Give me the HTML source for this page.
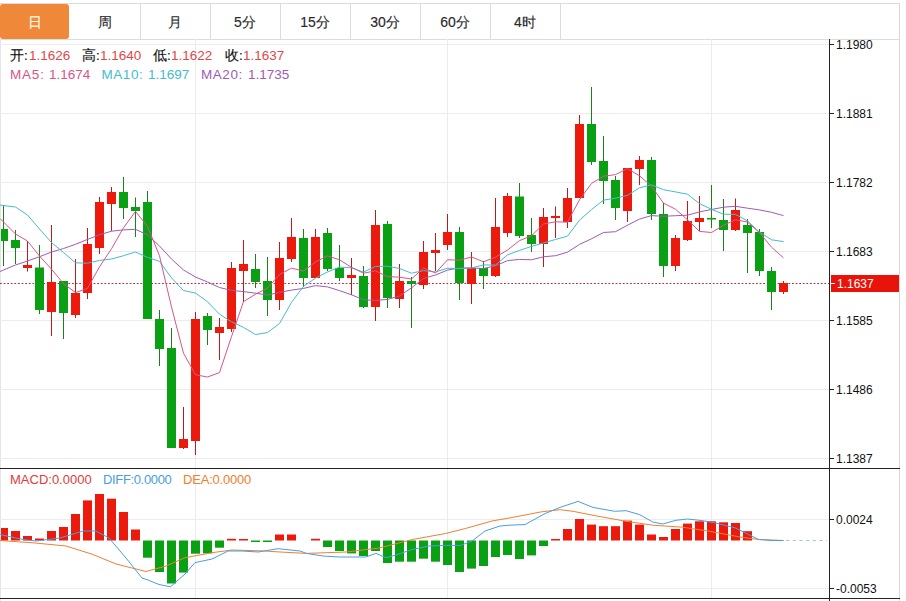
<!DOCTYPE html>
<html><head><meta charset="utf-8">
<style>
html,body{margin:0;padding:0;background:#fff;}
body{width:906px;height:601px;position:relative;overflow:hidden;font-family:"Liberation Sans",sans-serif;}
.topline{position:absolute;left:0;top:3px;width:900px;height:1px;background:#dcdcdc;}
.botline{position:absolute;left:0;top:39px;width:900px;height:1px;background:#dcdcdc;}
.rline{position:absolute;left:899px;top:3px;width:1px;height:598px;background:#d8d8d8;}
.lline{position:absolute;left:0;top:39px;width:1px;height:562px;background:#e4e4ea;}
.sep{position:absolute;top:3px;width:1px;height:36px;background:#dcdcdc;}
.tab{position:absolute;top:4px;width:70px;height:35px;line-height:37px;text-align:center;font-size:14px;color:#2a2a2a;-webkit-text-stroke:0.15px #2a2a2a;}
.tab.act{left:1px;width:69px;background:#f0883a;color:#fff8e8;-webkit-text-stroke:0.15px #fff8e8;border-radius:3px;}
svg{position:absolute;left:0;top:0;}
.ax{font-size:12px;fill:#111;font-family:"Liberation Sans",sans-serif;}
.t{position:absolute;white-space:nowrap;line-height:16px;}
.leg{position:absolute;font-size:13px;white-space:nowrap;line-height:16px;}
.k{color:#222;} .v{color:#e04545;}
</style></head><body>
<div class="topline"></div><div class="botline"></div><div class="rline"></div><div class="lline"></div>
<div class="sep" style="left:140px"></div><div class="sep" style="left:210px"></div><div class="sep" style="left:280px"></div><div class="sep" style="left:350px"></div><div class="sep" style="left:420px"></div><div class="sep" style="left:490px"></div><div class="sep" style="left:560px"></div><div class="tab act" style="left:0px">日</div><div class="tab" style="left:70px">周</div><div class="tab" style="left:140px">月</div><div class="tab" style="left:210px">5分</div><div class="tab" style="left:280px">15分</div><div class="tab" style="left:350px">30分</div><div class="tab" style="left:420px">60分</div><div class="tab" style="left:490px">4时</div>
<svg width="906" height="601" viewBox="0 0 906 601">
<defs><clipPath id="clipc"><rect x="1" y="40" width="828" height="428"/></clipPath><clipPath id="clipm"><rect x="1" y="469" width="828" height="129"/></clipPath></defs>
<line x1="0" y1="44.5" x2="829" y2="44.5" stroke="#ebebf0" stroke-width="1"/>
<line x1="0" y1="113.5" x2="829" y2="113.5" stroke="#ebebf0" stroke-width="1"/>
<line x1="0" y1="182.5" x2="829" y2="182.5" stroke="#ebebf0" stroke-width="1"/>
<line x1="0" y1="251.5" x2="829" y2="251.5" stroke="#ebebf0" stroke-width="1"/>
<line x1="0" y1="320.5" x2="829" y2="320.5" stroke="#ebebf0" stroke-width="1"/>
<line x1="0" y1="389.5" x2="829" y2="389.5" stroke="#ebebf0" stroke-width="1"/>
<line x1="0" y1="458.5" x2="829" y2="458.5" stroke="#ebebf0" stroke-width="1"/>
<line x1="0" y1="519.5" x2="829" y2="519.5" stroke="#ebebf0" stroke-width="1"/>
<line x1="0" y1="588.5" x2="829" y2="588.5" stroke="#ebebf0" stroke-width="1"/>
<line x1="195.5" y1="39" x2="195.5" y2="598" stroke="#ebebf0" stroke-width="1"/>
<line x1="447.5" y1="39" x2="447.5" y2="598" stroke="#ebebf0" stroke-width="1"/>
<line x1="711.5" y1="39" x2="711.5" y2="598" stroke="#ebebf0" stroke-width="1"/>
<line x1="0" y1="283.5" x2="829" y2="283.5" stroke="#b83040" stroke-width="1" stroke-dasharray="1.8,1.8"/>
<g clip-path="url(#clipc)">
<line x1="3.5" y1="205" x2="3.5" y2="266" stroke="#1a801a" stroke-width="1"/>
<rect x="-1.0" y="229" width="9" height="12" fill="#0aa014"/>
<line x1="15.5" y1="230" x2="15.5" y2="264" stroke="#1a801a" stroke-width="1"/>
<rect x="11.0" y="240" width="9" height="8" fill="#0aa014"/>
<line x1="27.5" y1="241" x2="27.5" y2="271.5" stroke="#b81c1c" stroke-width="1"/>
<rect x="23.0" y="265" width="9" height="3" fill="#ec1a0c"/>
<line x1="39.5" y1="245" x2="39.5" y2="314" stroke="#1a801a" stroke-width="1"/>
<rect x="35.0" y="267.5" width="9" height="42.5" fill="#0aa014"/>
<line x1="51.5" y1="225" x2="51.5" y2="336" stroke="#b81c1c" stroke-width="1"/>
<rect x="47.0" y="282" width="9" height="30" fill="#ec1a0c"/>
<line x1="63.5" y1="281" x2="63.5" y2="339" stroke="#1a801a" stroke-width="1"/>
<rect x="59.0" y="281" width="9" height="32" fill="#0aa014"/>
<line x1="75.5" y1="259" x2="75.5" y2="318" stroke="#b81c1c" stroke-width="1"/>
<rect x="71.0" y="293" width="9" height="22" fill="#ec1a0c"/>
<line x1="87.5" y1="228" x2="87.5" y2="299" stroke="#b81c1c" stroke-width="1"/>
<rect x="83.0" y="244" width="9" height="49" fill="#ec1a0c"/>
<line x1="99.5" y1="197" x2="99.5" y2="254" stroke="#b81c1c" stroke-width="1"/>
<rect x="95.0" y="202" width="9" height="46" fill="#ec1a0c"/>
<line x1="111.5" y1="187" x2="111.5" y2="231" stroke="#b81c1c" stroke-width="1"/>
<rect x="107.0" y="192" width="9" height="12" fill="#ec1a0c"/>
<line x1="123.5" y1="177" x2="123.5" y2="219" stroke="#1a801a" stroke-width="1"/>
<rect x="119.0" y="192" width="9" height="16" fill="#0aa014"/>
<line x1="135.5" y1="197.5" x2="135.5" y2="237" stroke="#1a801a" stroke-width="1"/>
<rect x="131.0" y="207" width="9" height="4" fill="#0aa014"/>
<line x1="147.5" y1="191" x2="147.5" y2="319" stroke="#1a801a" stroke-width="1"/>
<rect x="143.0" y="202" width="9" height="117" fill="#0aa014"/>
<line x1="159.5" y1="310" x2="159.5" y2="366" stroke="#1a801a" stroke-width="1"/>
<rect x="155.0" y="319" width="9" height="30" fill="#0aa014"/>
<line x1="171.5" y1="328" x2="171.5" y2="448" stroke="#1a801a" stroke-width="1"/>
<rect x="167.0" y="348" width="9" height="100" fill="#0aa014"/>
<line x1="183.5" y1="407" x2="183.5" y2="449" stroke="#b81c1c" stroke-width="1"/>
<rect x="179.0" y="439" width="9" height="9" fill="#ec1a0c"/>
<line x1="195.5" y1="312" x2="195.5" y2="455" stroke="#b81c1c" stroke-width="1"/>
<rect x="191.0" y="319" width="9" height="122" fill="#ec1a0c"/>
<line x1="207.5" y1="313" x2="207.5" y2="345" stroke="#1a801a" stroke-width="1"/>
<rect x="203.0" y="316" width="9" height="14" fill="#0aa014"/>
<line x1="219.5" y1="318" x2="219.5" y2="360" stroke="#b81c1c" stroke-width="1"/>
<rect x="215.0" y="327" width="9" height="6" fill="#ec1a0c"/>
<line x1="231.5" y1="262" x2="231.5" y2="332" stroke="#b81c1c" stroke-width="1"/>
<rect x="227.0" y="268" width="9" height="61" fill="#ec1a0c"/>
<line x1="243.5" y1="240" x2="243.5" y2="302" stroke="#b81c1c" stroke-width="1"/>
<rect x="239.0" y="264" width="9" height="7" fill="#ec1a0c"/>
<line x1="255.5" y1="254" x2="255.5" y2="288" stroke="#1a801a" stroke-width="1"/>
<rect x="251.0" y="269" width="9" height="13" fill="#0aa014"/>
<line x1="267.5" y1="257" x2="267.5" y2="316" stroke="#1a801a" stroke-width="1"/>
<rect x="263.0" y="281" width="9" height="19" fill="#0aa014"/>
<line x1="279.5" y1="242" x2="279.5" y2="310" stroke="#b81c1c" stroke-width="1"/>
<rect x="275.0" y="258" width="9" height="42" fill="#ec1a0c"/>
<line x1="291.5" y1="218" x2="291.5" y2="262" stroke="#b81c1c" stroke-width="1"/>
<rect x="287.0" y="237" width="9" height="22" fill="#ec1a0c"/>
<line x1="303.5" y1="229" x2="303.5" y2="287" stroke="#1a801a" stroke-width="1"/>
<rect x="299.0" y="238" width="9" height="40" fill="#0aa014"/>
<line x1="315.5" y1="229" x2="315.5" y2="278" stroke="#b81c1c" stroke-width="1"/>
<rect x="311.0" y="237" width="9" height="41" fill="#ec1a0c"/>
<line x1="327.5" y1="228" x2="327.5" y2="271" stroke="#1a801a" stroke-width="1"/>
<rect x="323.0" y="233" width="9" height="36" fill="#0aa014"/>
<line x1="339.5" y1="245" x2="339.5" y2="281" stroke="#1a801a" stroke-width="1"/>
<rect x="335.0" y="268" width="9" height="10" fill="#0aa014"/>
<line x1="351.5" y1="258" x2="351.5" y2="295" stroke="#b81c1c" stroke-width="1"/>
<rect x="347.0" y="275" width="9" height="3" fill="#ec1a0c"/>
<line x1="363.5" y1="266" x2="363.5" y2="308" stroke="#1a801a" stroke-width="1"/>
<rect x="359.0" y="276" width="9" height="31" fill="#0aa014"/>
<line x1="375.5" y1="210" x2="375.5" y2="321" stroke="#b81c1c" stroke-width="1"/>
<rect x="371.0" y="225" width="9" height="82" fill="#ec1a0c"/>
<line x1="387.5" y1="221" x2="387.5" y2="308" stroke="#1a801a" stroke-width="1"/>
<rect x="383.0" y="224" width="9" height="74" fill="#0aa014"/>
<line x1="399.5" y1="264" x2="399.5" y2="308" stroke="#b81c1c" stroke-width="1"/>
<rect x="395.0" y="281" width="9" height="18" fill="#ec1a0c"/>
<line x1="411.5" y1="277" x2="411.5" y2="328" stroke="#1a801a" stroke-width="1"/>
<rect x="407.0" y="281" width="9" height="3" fill="#0aa014"/>
<line x1="423.5" y1="241" x2="423.5" y2="289" stroke="#b81c1c" stroke-width="1"/>
<rect x="419.0" y="252" width="9" height="33" fill="#ec1a0c"/>
<line x1="435.5" y1="233" x2="435.5" y2="271" stroke="#b81c1c" stroke-width="1"/>
<rect x="431.0" y="250" width="9" height="3" fill="#ec1a0c"/>
<line x1="447.5" y1="214" x2="447.5" y2="250" stroke="#b81c1c" stroke-width="1"/>
<rect x="443.0" y="232" width="9" height="13" fill="#ec1a0c"/>
<line x1="459.5" y1="227" x2="459.5" y2="300" stroke="#1a801a" stroke-width="1"/>
<rect x="455.0" y="232" width="9" height="51" fill="#0aa014"/>
<line x1="471.5" y1="252" x2="471.5" y2="304" stroke="#b81c1c" stroke-width="1"/>
<rect x="467.0" y="268" width="9" height="16" fill="#ec1a0c"/>
<line x1="483.5" y1="261" x2="483.5" y2="289" stroke="#1a801a" stroke-width="1"/>
<rect x="479.0" y="268" width="9" height="8" fill="#0aa014"/>
<line x1="495.5" y1="198" x2="495.5" y2="277" stroke="#b81c1c" stroke-width="1"/>
<rect x="491.0" y="227" width="9" height="49" fill="#ec1a0c"/>
<line x1="507.5" y1="193" x2="507.5" y2="237" stroke="#b81c1c" stroke-width="1"/>
<rect x="503.0" y="196" width="9" height="37" fill="#ec1a0c"/>
<line x1="519.5" y1="183" x2="519.5" y2="238" stroke="#1a801a" stroke-width="1"/>
<rect x="515.0" y="196.5" width="9" height="39.5" fill="#0aa014"/>
<line x1="531.5" y1="218" x2="531.5" y2="252" stroke="#1a801a" stroke-width="1"/>
<rect x="527.0" y="235" width="9" height="9" fill="#0aa014"/>
<line x1="543.5" y1="208" x2="543.5" y2="267" stroke="#b81c1c" stroke-width="1"/>
<rect x="539.0" y="217" width="9" height="27" fill="#ec1a0c"/>
<line x1="555.5" y1="206.5" x2="555.5" y2="238" stroke="#b81c1c" stroke-width="1"/>
<rect x="551.0" y="216" width="9" height="2" fill="#ec1a0c"/>
<line x1="567.5" y1="188" x2="567.5" y2="228" stroke="#b81c1c" stroke-width="1"/>
<rect x="563.0" y="198" width="9" height="24" fill="#ec1a0c"/>
<line x1="579.5" y1="115" x2="579.5" y2="198" stroke="#b81c1c" stroke-width="1"/>
<rect x="575.0" y="124" width="9" height="74" fill="#ec1a0c"/>
<line x1="591.5" y1="87" x2="591.5" y2="165" stroke="#1a801a" stroke-width="1"/>
<rect x="587.0" y="124" width="9" height="38" fill="#0aa014"/>
<line x1="603.5" y1="136" x2="603.5" y2="204" stroke="#1a801a" stroke-width="1"/>
<rect x="599.0" y="161" width="9" height="20" fill="#0aa014"/>
<line x1="615.5" y1="176" x2="615.5" y2="220" stroke="#1a801a" stroke-width="1"/>
<rect x="611.0" y="180" width="9" height="28" fill="#0aa014"/>
<line x1="627.5" y1="168" x2="627.5" y2="222" stroke="#b81c1c" stroke-width="1"/>
<rect x="623.0" y="168" width="9" height="43" fill="#ec1a0c"/>
<line x1="639.5" y1="156" x2="639.5" y2="185" stroke="#b81c1c" stroke-width="1"/>
<rect x="635.0" y="160" width="9" height="9" fill="#ec1a0c"/>
<line x1="651.5" y1="157" x2="651.5" y2="220" stroke="#1a801a" stroke-width="1"/>
<rect x="647.0" y="160" width="9" height="54" fill="#0aa014"/>
<line x1="663.5" y1="203" x2="663.5" y2="277" stroke="#1a801a" stroke-width="1"/>
<rect x="659.0" y="214" width="9" height="52" fill="#0aa014"/>
<line x1="675.5" y1="235" x2="675.5" y2="271" stroke="#b81c1c" stroke-width="1"/>
<rect x="671.0" y="238" width="9" height="28" fill="#ec1a0c"/>
<line x1="687.5" y1="201" x2="687.5" y2="241" stroke="#b81c1c" stroke-width="1"/>
<rect x="683.0" y="221" width="9" height="19" fill="#ec1a0c"/>
<line x1="699.5" y1="196" x2="699.5" y2="231" stroke="#b81c1c" stroke-width="1"/>
<rect x="695.0" y="218" width="9" height="4" fill="#ec1a0c"/>
<line x1="711.5" y1="185" x2="711.5" y2="228" stroke="#1a801a" stroke-width="1"/>
<rect x="707.0" y="218" width="9" height="1.5" fill="#0aa014"/>
<line x1="723.5" y1="199" x2="723.5" y2="251" stroke="#1a801a" stroke-width="1"/>
<rect x="719.0" y="220" width="9" height="10" fill="#0aa014"/>
<line x1="735.5" y1="198.5" x2="735.5" y2="231" stroke="#b81c1c" stroke-width="1"/>
<rect x="731.0" y="210" width="9" height="20" fill="#ec1a0c"/>
<line x1="747.5" y1="219" x2="747.5" y2="273" stroke="#1a801a" stroke-width="1"/>
<rect x="743.0" y="225" width="9" height="8" fill="#0aa014"/>
<line x1="759.5" y1="229" x2="759.5" y2="276" stroke="#1a801a" stroke-width="1"/>
<rect x="755.0" y="232" width="9" height="39" fill="#0aa014"/>
<line x1="771.5" y1="267" x2="771.5" y2="310" stroke="#1a801a" stroke-width="1"/>
<rect x="767.0" y="271" width="9" height="21" fill="#0aa014"/>
<line x1="783.5" y1="281" x2="783.5" y2="294" stroke="#b81c1c" stroke-width="1"/>
<rect x="779.0" y="283" width="9" height="9" fill="#ec1a0c"/>
</g>
<polyline points="0.0,271.5 3.5,270.0 15.5,265.0 27.5,261.0 39.5,256.7 51.5,252.0 63.5,248.5 75.5,244.3 87.5,239.4 99.5,234.8 111.5,231.2 123.5,229.9 135.5,229.3 147.5,234.8 159.5,246.0 171.5,259.0 183.5,270.0 195.5,277.0 207.5,282.0 219.5,287.5 231.5,290.4 243.5,291.6 255.5,293.2 267.5,295.0 279.5,292.4 291.5,290.1 303.5,288.4 315.5,285.6 327.5,286.9 339.5,290.6 351.5,294.8 363.5,299.8 375.5,300.4 387.5,299.4 399.5,296.0 411.5,287.8 423.5,278.4 435.5,275.0 447.5,270.1 459.5,267.9 471.5,267.9 483.5,268.5 495.5,265.8 507.5,260.6 519.5,259.4 531.5,259.8 543.5,256.8 555.5,255.7 567.5,252.2 579.5,244.4 591.5,238.8 603.5,232.5 615.5,231.7 627.5,225.2 639.5,219.1 651.5,215.6 663.5,216.3 675.5,215.7 687.5,215.2 699.5,211.9 711.5,209.5 723.5,207.2 735.5,206.3 747.5,208.2 759.5,209.9 771.5,212.3 783.5,215.6" fill="none" stroke="#9e5cb4" stroke-width="1"/>
<polyline points="0.0,205.0 3.5,205.5 15.5,207.0 27.5,215.0 39.5,229.0 51.5,242.5 63.5,252.5 75.5,262.8 87.5,263.2 99.5,260.4 111.5,259.0 123.5,255.7 135.5,252.0 147.5,257.4 159.5,261.3 171.5,277.9 183.5,290.5 195.5,293.1 207.5,301.7 219.5,314.2 231.5,321.8 243.5,327.4 255.5,334.5 267.5,332.6 279.5,323.5 291.5,302.4 303.5,286.3 315.5,278.1 327.5,272.0 339.5,267.1 351.5,267.8 363.5,272.1 375.5,266.4 387.5,266.2 399.5,268.5 411.5,273.2 423.5,270.6 435.5,271.9 447.5,268.2 459.5,268.7 471.5,268.0 483.5,264.9 495.5,265.1 507.5,254.9 519.5,250.4 531.5,246.4 543.5,242.9 555.5,239.5 567.5,236.1 579.5,220.2 591.5,209.6 603.5,200.1 615.5,198.2 627.5,195.4 639.5,187.8 651.5,184.8 663.5,189.7 675.5,191.9 687.5,194.2 699.5,203.6 711.5,209.3 723.5,214.2 735.5,214.4 747.5,220.9 759.5,232.1 771.5,239.8 783.5,241.6" fill="none" stroke="#45bccb" stroke-width="1"/>
<polyline points="0.0,218.5 3.5,222.0 15.5,234.0 27.5,241.0 39.5,256.0 51.5,269.2 63.5,283.6 75.5,292.6 87.5,288.4 99.5,266.8 111.5,248.8 123.5,227.8 135.5,211.4 147.5,226.4 159.5,255.8 171.5,307.0 183.5,353.2 195.5,374.8 207.5,377.0 219.5,372.6 231.5,336.6 243.5,301.6 255.5,294.2 267.5,288.2 279.5,274.4 291.5,268.2 303.5,271.0 315.5,262.0 327.5,255.8 339.5,259.8 351.5,267.4 363.5,273.2 375.5,270.8 387.5,276.6 399.5,277.2 411.5,279.0 423.5,268.0 435.5,273.0 447.5,259.8 459.5,260.2 471.5,257.0 483.5,261.8 495.5,257.2 507.5,250.0 519.5,240.6 531.5,235.8 543.5,224.0 555.5,221.8 567.5,222.2 579.5,199.8 591.5,183.4 603.5,176.2 615.5,174.6 627.5,168.6 639.5,175.8 651.5,186.2 663.5,203.2 675.5,209.2 687.5,219.8 699.5,231.4 711.5,232.5 723.5,225.3 735.5,219.7 747.5,222.1 759.5,232.7 771.5,247.2 783.5,257.8" fill="none" stroke="#d8558a" stroke-width="1"/>
<g clip-path="url(#clipm)">
<rect x="-1.0" y="528" width="9" height="12.5" fill="#ec1a0c"/>
<rect x="11.0" y="531" width="9" height="9.5" fill="#ec1a0c"/>
<rect x="23.0" y="536" width="9" height="4.5" fill="#ec1a0c"/>
<rect x="35.0" y="538.5" width="9" height="2.0" fill="#ec1a0c"/>
<rect x="47.0" y="531" width="9" height="9.5" fill="#ec1a0c"/>
<rect x="59.0" y="527" width="9" height="13.5" fill="#ec1a0c"/>
<rect x="71.0" y="514" width="9" height="26.5" fill="#ec1a0c"/>
<rect x="83.0" y="500.4" width="9" height="40.1" fill="#ec1a0c"/>
<rect x="95.0" y="494" width="9" height="46.5" fill="#ec1a0c"/>
<rect x="107.0" y="498.7" width="9" height="41.8" fill="#ec1a0c"/>
<rect x="119.0" y="512" width="9" height="28.5" fill="#ec1a0c"/>
<rect x="131.0" y="529.5" width="9" height="11.0" fill="#ec1a0c"/>
<rect x="143.0" y="540.5" width="9" height="17.2" fill="#0aa014"/>
<rect x="155.0" y="540.5" width="9" height="31.5" fill="#0aa014"/>
<rect x="167.0" y="540.5" width="9" height="43.0" fill="#0aa014"/>
<rect x="179.0" y="540.5" width="9" height="32.1" fill="#0aa014"/>
<rect x="191.0" y="540.5" width="9" height="13.2" fill="#0aa014"/>
<rect x="203.0" y="540.5" width="9" height="12.9" fill="#0aa014"/>
<rect x="215.0" y="540.5" width="9" height="7.2" fill="#0aa014"/>
<rect x="227.0" y="538.8" width="9" height="1.7" fill="#ec1a0c"/>
<rect x="239.0" y="539.0" width="9" height="1.5" fill="#ec1a0c"/>
<rect x="251.0" y="540.5" width="9" height="1.5" fill="#0aa014"/>
<rect x="263.0" y="540.5" width="9" height="1.5" fill="#0aa014"/>
<rect x="275.0" y="534.5" width="9" height="6.0" fill="#ec1a0c"/>
<rect x="287.0" y="534.5" width="9" height="6.0" fill="#ec1a0c"/>
<rect x="311.0" y="538.8" width="9" height="1.7" fill="#ec1a0c"/>
<rect x="323.0" y="540.5" width="9" height="6.5" fill="#0aa014"/>
<rect x="335.0" y="540.5" width="9" height="10.5" fill="#0aa014"/>
<rect x="347.0" y="540.5" width="9" height="12.9" fill="#0aa014"/>
<rect x="359.0" y="540.5" width="9" height="15.5" fill="#0aa014"/>
<rect x="371.0" y="540.5" width="9" height="10.5" fill="#0aa014"/>
<rect x="383.0" y="540.5" width="9" height="22.5" fill="#0aa014"/>
<rect x="395.0" y="540.5" width="9" height="21.2" fill="#0aa014"/>
<rect x="407.0" y="540.5" width="9" height="21.2" fill="#0aa014"/>
<rect x="419.0" y="540.5" width="9" height="18.2" fill="#0aa014"/>
<rect x="431.0" y="540.5" width="9" height="21.2" fill="#0aa014"/>
<rect x="443.0" y="540.5" width="9" height="24.5" fill="#0aa014"/>
<rect x="455.0" y="540.5" width="9" height="31.5" fill="#0aa014"/>
<rect x="467.0" y="540.5" width="9" height="28.1" fill="#0aa014"/>
<rect x="479.0" y="540.5" width="9" height="25.5" fill="#0aa014"/>
<rect x="491.0" y="540.5" width="9" height="16.5" fill="#0aa014"/>
<rect x="503.0" y="540.5" width="9" height="14.5" fill="#0aa014"/>
<rect x="515.0" y="540.5" width="9" height="18.5" fill="#0aa014"/>
<rect x="527.0" y="540.5" width="9" height="14.9" fill="#0aa014"/>
<rect x="539.0" y="540.5" width="9" height="5.5" fill="#0aa014"/>
<rect x="551.0" y="539.0" width="9" height="1.5" fill="#ec1a0c"/>
<rect x="563.0" y="529" width="9" height="11.5" fill="#ec1a0c"/>
<rect x="575.0" y="519" width="9" height="21.5" fill="#ec1a0c"/>
<rect x="587.0" y="524.6" width="9" height="15.9" fill="#ec1a0c"/>
<rect x="599.0" y="526.2" width="9" height="14.3" fill="#ec1a0c"/>
<rect x="611.0" y="526.2" width="9" height="14.3" fill="#ec1a0c"/>
<rect x="623.0" y="520.6" width="9" height="19.9" fill="#ec1a0c"/>
<rect x="635.0" y="524.6" width="9" height="15.9" fill="#ec1a0c"/>
<rect x="647.0" y="534.5" width="9" height="6.0" fill="#ec1a0c"/>
<rect x="659.0" y="537" width="9" height="3.5" fill="#ec1a0c"/>
<rect x="671.0" y="529" width="9" height="11.5" fill="#ec1a0c"/>
<rect x="683.0" y="523.6" width="9" height="16.9" fill="#ec1a0c"/>
<rect x="695.0" y="521.3" width="9" height="19.2" fill="#ec1a0c"/>
<rect x="707.0" y="521.3" width="9" height="19.2" fill="#ec1a0c"/>
<rect x="719.0" y="522.3" width="9" height="18.2" fill="#ec1a0c"/>
<rect x="731.0" y="523" width="9" height="17.5" fill="#ec1a0c"/>
<rect x="743.0" y="531.2" width="9" height="9.3" fill="#ec1a0c"/>
</g>
<line x1="786" y1="540.5" x2="827" y2="540.5" stroke="#a8c4d8" stroke-width="1" stroke-dasharray="3.2,3.5"/>
<polyline points="0.0,540.5 33.0,542.8 66.0,546.0 93.0,554.5 116.0,564.0 146.0,571.5 166.0,566.0 185.0,557.7 212.0,552.7 232.0,550.0 265.0,551.0 280.0,552.0 306.5,553.4 346.0,552.0 379.0,548.0 412.5,539.5 445.6,533.5 465.4,528.5 492.0,521.0 512.0,517.5 541.6,511.8 560.0,509.7 573.0,511.3 593.0,515.3 626.0,521.3 652.7,525.2 682.5,527.2 709.0,531.2 738.8,536.8 758.7,539.5 783.5,540.5" fill="none" stroke="#f08030" stroke-width="1"/>
<polyline points="0.0,534.5 23.0,539.5 36.0,541.0 60.0,538.0 83.0,531.0 96.0,531.0 109.0,538.0 126.0,558.0 142.0,578.0 148.0,580.0 159.0,584.5 170.5,586.8 185.0,574.0 195.0,562.6 212.0,559.0 228.0,551.0 242.0,551.0 258.0,552.0 278.0,548.7 300.0,551.0 306.5,553.4 323.0,556.0 339.6,557.0 366.0,557.0 376.0,553.4 386.0,557.7 396.0,555.0 412.5,549.4 429.0,546.0 445.6,545.4 460.5,545.4 472.0,541.0 485.0,531.0 500.0,526.0 512.0,525.0 525.0,524.6 545.0,513.6 560.0,507.4 578.0,501.4 593.0,507.4 614.6,511.3 626.0,510.7 639.5,514.6 652.7,522.0 662.6,524.0 676.0,520.3 687.5,519.0 702.0,520.6 715.6,523.0 735.5,528.0 758.7,539.5 772.0,540.5 783.5,540.5" fill="none" stroke="#4a9ee0" stroke-width="1"/>
<line x1="829.5" y1="39" x2="829.5" y2="601" stroke="#222" stroke-width="1"/>
<line x1="0" y1="468.5" x2="900" y2="468.5" stroke="#222" stroke-width="1"/>
<line x1="0" y1="598.5" x2="900" y2="598.5" stroke="#222" stroke-width="1"/>
<line x1="829" y1="44.5" x2="834" y2="44.5" stroke="#222" stroke-width="1"/>
<text x="836" y="48.5" class="ax">1.1980</text>
<line x1="829" y1="113.5" x2="834" y2="113.5" stroke="#222" stroke-width="1"/>
<text x="836" y="117.5" class="ax">1.1881</text>
<line x1="829" y1="182.5" x2="834" y2="182.5" stroke="#222" stroke-width="1"/>
<text x="836" y="186.5" class="ax">1.1782</text>
<line x1="829" y1="251.5" x2="834" y2="251.5" stroke="#222" stroke-width="1"/>
<text x="836" y="255.5" class="ax">1.1683</text>
<line x1="829" y1="320.5" x2="834" y2="320.5" stroke="#222" stroke-width="1"/>
<text x="836" y="324.5" class="ax">1.1585</text>
<line x1="829" y1="389.5" x2="834" y2="389.5" stroke="#222" stroke-width="1"/>
<text x="836" y="393.5" class="ax">1.1486</text>
<line x1="829" y1="458.5" x2="834" y2="458.5" stroke="#222" stroke-width="1"/>
<text x="836" y="462.5" class="ax">1.1387</text>
<line x1="829" y1="519.5" x2="834" y2="519.5" stroke="#222" stroke-width="1"/>
<text x="836" y="523.5" class="ax">0.0024</text>
<line x1="829" y1="588.5" x2="834" y2="588.5" stroke="#222" stroke-width="1"/>
<text x="836" y="592.5" class="ax">-0.0053</text>
<rect x="831" y="275" width="68" height="17" fill="#e8140a"/>
<line x1="831" y1="283.5" x2="835" y2="283.5" stroke="#fff" stroke-width="1"/>
<text x="837" y="288" class="ax" style="fill:#fff">1.1637</text>
</svg>
<div class="t" style="left:10px;top:48px;color:#111;font-size:13.5px;letter-spacing:0px;-webkit-text-stroke:0.15px #111">开:</div>
<div class="t" style="left:29px;top:48px;color:#e04848;font-size:13.5px;letter-spacing:0px;">1.1626</div>
<div class="t" style="left:82px;top:48px;color:#111;font-size:13.5px;letter-spacing:0px;-webkit-text-stroke:0.15px #111">高:</div>
<div class="t" style="left:100px;top:48px;color:#e04848;font-size:13.5px;letter-spacing:0px;">1.1640</div>
<div class="t" style="left:153px;top:48px;color:#111;font-size:13.5px;letter-spacing:0px;-webkit-text-stroke:0.15px #111">低:</div>
<div class="t" style="left:171px;top:48px;color:#e04848;font-size:13.5px;letter-spacing:0px;">1.1622</div>
<div class="t" style="left:225px;top:48px;color:#111;font-size:13.5px;letter-spacing:0px;-webkit-text-stroke:0.15px #111">收:</div>
<div class="t" style="left:243px;top:48px;color:#e04848;font-size:13.5px;letter-spacing:0px;">1.1637</div>
<div class="t" style="left:10px;top:67px;color:#d8558a;font-size:13.5px;letter-spacing:0.8px;">MA5:</div>
<div class="t" style="left:49px;top:67px;color:#d8558a;font-size:13.5px;letter-spacing:0px;">1.1674</div>
<div class="t" style="left:101.5px;top:67px;color:#45bccb;font-size:13.5px;letter-spacing:0.55px;">MA10:</div>
<div class="t" style="left:148px;top:67px;color:#45bccb;font-size:13.5px;letter-spacing:0px;">1.1697</div>
<div class="t" style="left:201px;top:67px;color:#9e5cb4;font-size:13.5px;letter-spacing:0.55px;">MA20:</div>
<div class="t" style="left:248px;top:67px;color:#9e5cb4;font-size:13.5px;letter-spacing:0px;">1.1735</div>
<div class="t" style="left:10px;top:472px;color:#e03c3c;font-size:13px;letter-spacing:0px;">MACD:0.0000</div>
<div class="t" style="left:103px;top:472px;color:#4a9ee0;font-size:13px;letter-spacing:-0.35px;">DIFF:0.0000</div>
<div class="t" style="left:183px;top:472px;color:#f08030;font-size:13px;letter-spacing:-0.2px;">DEA:0.0000</div>
</body></html>
